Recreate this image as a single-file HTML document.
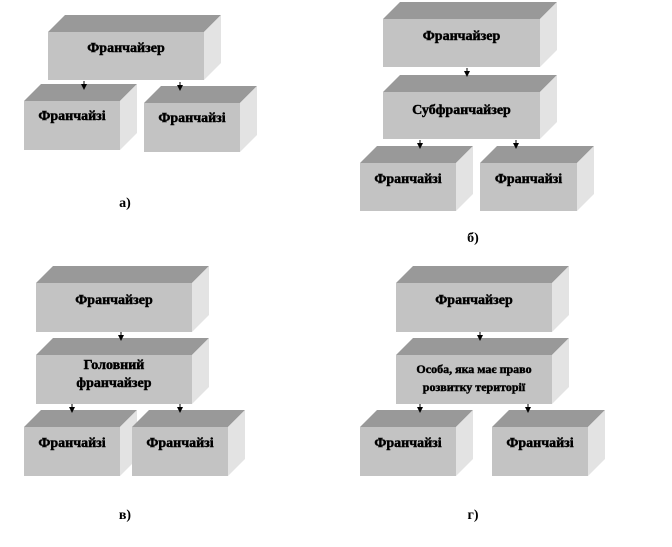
<!DOCTYPE html>
<html><head><meta charset="utf-8"><style>
html,body{margin:0;padding:0;background:#fff;width:672px;height:547px;overflow:hidden}
svg text{font-family:"Liberation Serif",serif;font-weight:bold;font-size:14px;fill:#000;text-anchor:middle}
svg text.m{stroke:#000;stroke-width:0.45px}
</style></head><body>
<svg id="s" width="672" height="547" xmlns="http://www.w3.org/2000/svg"></svg>
<script>
var s=document.getElementById('s'),h='';
function box(x,y,w,ht,lines,dy,fs){var d=17;
h+='<polygon points="'+x+','+y+' '+(x+d)+','+(y-d)+' '+(x+w+d)+','+(y-d)+' '+(x+w)+','+y+'" fill="#999"/>';
h+='<polygon points="'+(x+w)+','+y+' '+(x+w+d)+','+(y-d)+' '+(x+w+d)+','+(y+ht-d)+' '+(x+w)+','+(y+ht)+'" fill="#e3e3e3"/>';
h+='<rect x="'+x+'" y="'+y+'" width="'+w+'" height="'+ht+'" fill="#c3c3c3"/>';
var cy=y+(dy||20);var st=fs?' style="font-size:'+fs+'px"':'';
for(var i=0;i<lines.length;i++){h+='<text class="m" x="'+(x+w/2)+'" y="'+(cy+i*18)+'"'+st+'>'+lines[i]+'</text>';}
}
function arr(x,y){h+='<line x1="'+x+'" y1="'+(y-6)+'" x2="'+x+'" y2="'+y+'" stroke="#000" stroke-width="1"/><polygon points="'+(x-3)+','+(y-3)+' '+(x+3)+','+(y-3)+' '+x+','+(y+3)+'" fill="#000"/>';}
box(48,32,156,48,['Франчайзер'],20);
box(24,101,96,49,['Франчайзі'],19);
box(144,103,96,49,['Франчайзі'],19);
arr(84,87);arr(180,88);
h+='<text x="125" y="207">а)</text>';
box(383,19,157,48,['Франчайзер'],21);
box(383,92,157,47,['Субфранчайзер'],22);
box(360,163,96,48,['Франчайзі'],20);
box(480,163,97,48,['Франчайзі'],20);
arr(467,74);arr(420,146);arr(516,146);
h+='<text x="473" y="242">б)</text>';
box(36,283,156,49,['Франчайзер'],21);
box(36,355,156,49,['Головний','франчайзер'],14);
box(24,427,96,49,['Франчайзі'],20);
box(132,427,96,49,['Франчайзі'],20);
arr(121,338);arr(72,410);arr(180,410);
h+='<text x="125" y="519">в)</text>';
box(396,283,156,49,['Франчайзер'],21);
box(396,355,156,49,['Особа, яка має право','розвитку території'],18,12);
box(360,427,96,49,['Франчайзі'],20);
box(492,427,96,49,['Франчайзі'],20);
arr(480,338);arr(420,410);arr(528,410);
h+='<text x="473" y="519">г)</text>';
s.innerHTML=h;
</script>
</body></html>
